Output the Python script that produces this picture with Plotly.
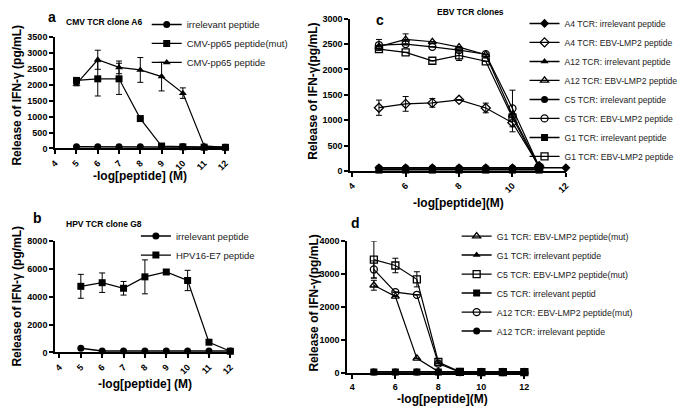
import plotly.graph_objects as go

W, H = 685, 412
conc = [5, 6, 7, 8, 9, 10, 11, 12]
conc11 = [5, 6, 7, 8, 9, 10, 11]

# Panel a: CMV TCR clone A6
a_irr = [50, 50, 50, 50, 50, 50, 45, 40]
a_mut = [2140, 2190, 2190, 940, 75, 50, 40, 35]
a_mut_err = [60, 540, 490, 0, 0, 0, 0, 0]
a_wt = [2030, 2790, 2550, 2470, 2260, 1740, 80, 35]
a_wt_err = [60, 300, 200, 390, 450, 165, 0, 0]

# Panel b: HPV TCR clone G8
b_irr = [300, 95, 95, 95, 95, 95, 95, 95]
b_e7 = [4750, 5010, 4610, 5430, 5780, 5170, 730, 80]
b_e7_err = [860, 700, 490, 1220, 160, 730, 0, 0]

# Panel c: EBV TCR clones
c_a4_irr = [60, 60, 60, 60, 60, 60, 60, 60]
c_a4_ebv = [1245, 1320, 1340, 1400, 1240, 950, 90]
c_a4_ebv_err = [150, 145, 85, 0, 95, 180, 0]
c_a12_irr = [30, 30, 30, 30, 30, 30, 30]
c_a12_ebv = [2450, 2590, 2545, 2440, 2290, 1100, 80]
c_a12_ebv_err = [0, 110, 0, 0, 0, 0, 0]
c_c5_irr = [55, 55, 55, 55, 55, 55, 55]
c_c5_ebv = [2480, 2500, 2445, 2380, 2300, 1230, 85]
c_c5_ebv_err = [110, 0, 0, 0, 0, 360, 0]
c_g1_irr = [15, 15, 15, 15, 15, 15, 15]
c_g1_ebv = [2400, 2335, 2170, 2275, 2160, 1050, 60]
c_g1_ebv_err = [0, 0, 0, 100, 0, 0, 0]

# Panel d: mutant peptide
d_g1_mut = [2660, 2320, 440, 40, 20, 20, 20, 20]
d_g1_mut_err = [150, 0, 0, 0, 0, 0, 0, 0]
d_g1_irr = [25, 25, 25, 25, 25, 25, 25, 25]
d_c5_mut = [3440, 3260, 2840, 330, 30, 25, 25, 25]
d_c5_mut_err = [560, 220, 230, 0, 0, 0, 0, 0]
d_c5_irr = [25, 25, 25, 25, 25, 25, 25, 25]
d_a12_mut = [3140, 2450, 2370, 280, 25, 25, 25, 25]
d_a12_mut_err = [260, 0, 0, 0, 0, 0, 0, 0]
d_a12_irr = [25, 25, 25, 25, 25, 25, 25, 25]

FONT = "Liberation Sans, Arial, sans-serif"


def px(x):
    return x / W


def py(y):
    return 1 - y / H


fig = go.Figure()


def add(x, y, name, symbol, xa, ya, legend, err=None, group=None, lw=1.2):
    open_sym = symbol.endswith("-open")
    fig.add_trace(go.Scatter(
        x=x, y=y, name=name, mode="lines+markers",
        xaxis=xa, yaxis=ya, legend=legend, legendgroup=group,
        line=dict(color="black", width=lw),
        marker=dict(symbol=symbol, size=7, color="black",
                    line=dict(color="black", width=1.3 if open_sym else 0)),
        error_y=dict(type="data", array=err, visible=err is not None,
                     color="black", thickness=1, width=3),
        cliponaxis=False,
    ))


# a
add(conc, a_irr, "irrelevant peptide", "circle", "x", "y", "legend", lw=1.5)
add(conc, a_mut, "CMV-pp65 peptide(mut)", "square", "x", "y", "legend", a_mut_err)
add(conc, a_wt, "CMV-pp65 peptide", "triangle-up", "x", "y", "legend", a_wt_err)
# b
add(conc, b_irr, "irrelevant peptide", "circle", "x2", "y2", "legend2", lw=1.5)
add(conc, b_e7, "HPV16-E7 peptide", "square", "x2", "y2", "legend2", b_e7_err)
# c
add(conc, c_a4_irr, "A4 TCR: irrelevant peptide", "diamond", "x3", "y3", "legend3", group="A4", lw=1.5)
add(conc11, c_a4_ebv, "A4 TCR: EBV-LMP2 peptide", "diamond-open", "x3", "y3", "legend3", c_a4_ebv_err, group="A4")
add(conc11, c_a12_irr, "A12 TCR: irrelevant peptide", "triangle-up", "x3", "y3", "legend3", group="A12", lw=1.5)
add(conc11, c_a12_ebv, "A12 TCR: EBV-LMP2 peptide", "triangle-up-open", "x3", "y3", "legend3", c_a12_ebv_err, group="A12")
add(conc11, c_c5_irr, "C5 TCR: irrelevant peptide", "circle", "x3", "y3", "legend3", group="C5", lw=1.5)
add(conc11, c_c5_ebv, "C5 TCR: EBV-LMP2 peptide", "circle-open", "x3", "y3", "legend3", c_c5_ebv_err, group="C5")
add(conc11, c_g1_irr, "G1 TCR: irrelevant peptide", "square", "x3", "y3", "legend3", group="G1", lw=1.5)
add(conc11, c_g1_ebv, "G1 TCR: EBV-LMP2 peptide", "square-open", "x3", "y3", "legend3", c_g1_ebv_err, group="G1")
# d
add(conc, d_g1_mut, "G1 TCR: EBV-LMP2 peptide(mut)", "triangle-up-open", "x4", "y4", "legend4", d_g1_mut_err, group="G1")
add(conc, d_g1_irr, "G1 TCR: irrelevant peptide", "triangle-up", "x4", "y4", "legend4", group="G1", lw=1.5)
add(conc, d_c5_mut, "C5 TCR: EBV-LMP2 peptide(mut)", "square-open", "x4", "y4", "legend4", d_c5_mut_err, group="C5")
add(conc, d_c5_irr, "C5 TCR: irrelevant peptid", "square", "x4", "y4", "legend4", group="C5", lw=1.5)
add(conc, d_a12_mut, "A12 TCR: EBV-LMP2 peptide(mut)", "circle-open", "x4", "y4", "legend4", d_a12_mut_err, group="A12")
add(conc, d_a12_irr, "A12 TCR: irrelevant peptide", "circle", "x4", "y4", "legend4", group="A12", lw=1.5)

tickfont = dict(family=FONT, size=9, color="black", weight="bold")
axcommon = dict(showline=True, linecolor="black", linewidth=2, ticks="outside",
                ticklen=4, tickwidth=2, tickcolor="black", showgrid=False,
                zeroline=False, tickfont=tickfont, fixedrange=True)

fig.update_layout(
    width=W, height=H, margin=dict(l=0, r=0, t=0, b=0),
    paper_bgcolor="white", plot_bgcolor="white",
    font=dict(family=FONT, color="black"),
    xaxis=dict(axcommon, domain=[px(50), px(223)], range=[4, 12], dtick=1, tick0=4,
               tickangle=-45, anchor="y"),
    yaxis=dict(axcommon, domain=[py(147), py(33)], range=[0, 3500], dtick=500, anchor="x"),
    xaxis2=dict(axcommon, domain=[px(50), px(228)], range=[3.8, 12], dtick=1, tick0=4,
                tickangle=-45, anchor="y2"),
    yaxis2=dict(axcommon, domain=[py(356), py(242)], range=[0, 8000], dtick=2000, anchor="x2"),
    xaxis3=dict(axcommon, domain=[px(350), px(569)], range=[3.93, 12], dtick=2, tick0=4,
                tickangle=-45, anchor="y3"),
    yaxis3=dict(axcommon, domain=[py(170), py(14)], range=[0, 3000], dtick=500, anchor="x3"),
    xaxis4=dict(axcommon, domain=[px(347), px(529)], range=[3.77, 12.1], dtick=2, tick0=4,
                tickangle=0, anchor="y4"),
    yaxis4=dict(axcommon, domain=[py(377), py(242)], range=[0, 4000], dtick=1000, anchor="x4"),
    showlegend=True,
)


def leg(x, y, size):
    return dict(x=px(x), y=py(y), xanchor="left", yanchor="top",
                font=dict(family=FONT, size=size, color="#222"),
                bgcolor="rgba(0,0,0,0)", tracegroupgap=0, itemwidth=30,
                traceorder="grouped")


fig.update_layout(
    legend=leg(143, 5, 9.5),
    legend2=leg(132, 222, 9.5),
    legend3=leg(527, 4, 8.6),
    legend4=leg(458, 222, 8.8),
)

ann = []


def text(x, y, t, size, bold=True, angle=0):
    ann.append(dict(x=px(x), y=py(y), xref="paper", yref="paper", text=t,
                    showarrow=False, textangle=angle, xanchor="center", yanchor="middle",
                    font=dict(family=FONT, size=size, color="black",
                              weight="bold" if bold else "normal")))


ylab1 = "Release of IFN-γ (pg/mL)"
ylab2 = "Release of IFN-γ(pg/mL)"
text(11, 92, ylab1, 12, angle=-90)
text(11, 298, ylab1, 12, angle=-90)
text(312, 88, ylab2, 12, angle=-90)
text(313, 305, ylab2, 12, angle=-90)
text(136, 175, "-log[peptide] (M)", 12)
text(141, 388, "-log[peptide] (M)", 12)
text(460, 203, "-log[peptide](M)", 12)
text(444, 404, "-log[peptide](M)", 12)
text(47, 12, "a", 14)
text(32, 218, "b", 14)
text(380, 15, "c", 14)
text(355, 223, "d", 14)
text(100, 17, "CMV TCR clone A6", 8.5)
text(100, 224, "HPV TCR clone G8", 8.5)
text(472, 7, "EBV TCR clones", 8.5)
fig.update_layout(annotations=ann)

fig.write_html("out.html", config={"displayModeBar": False},
               post_script="document.body.style.margin='0px';")
